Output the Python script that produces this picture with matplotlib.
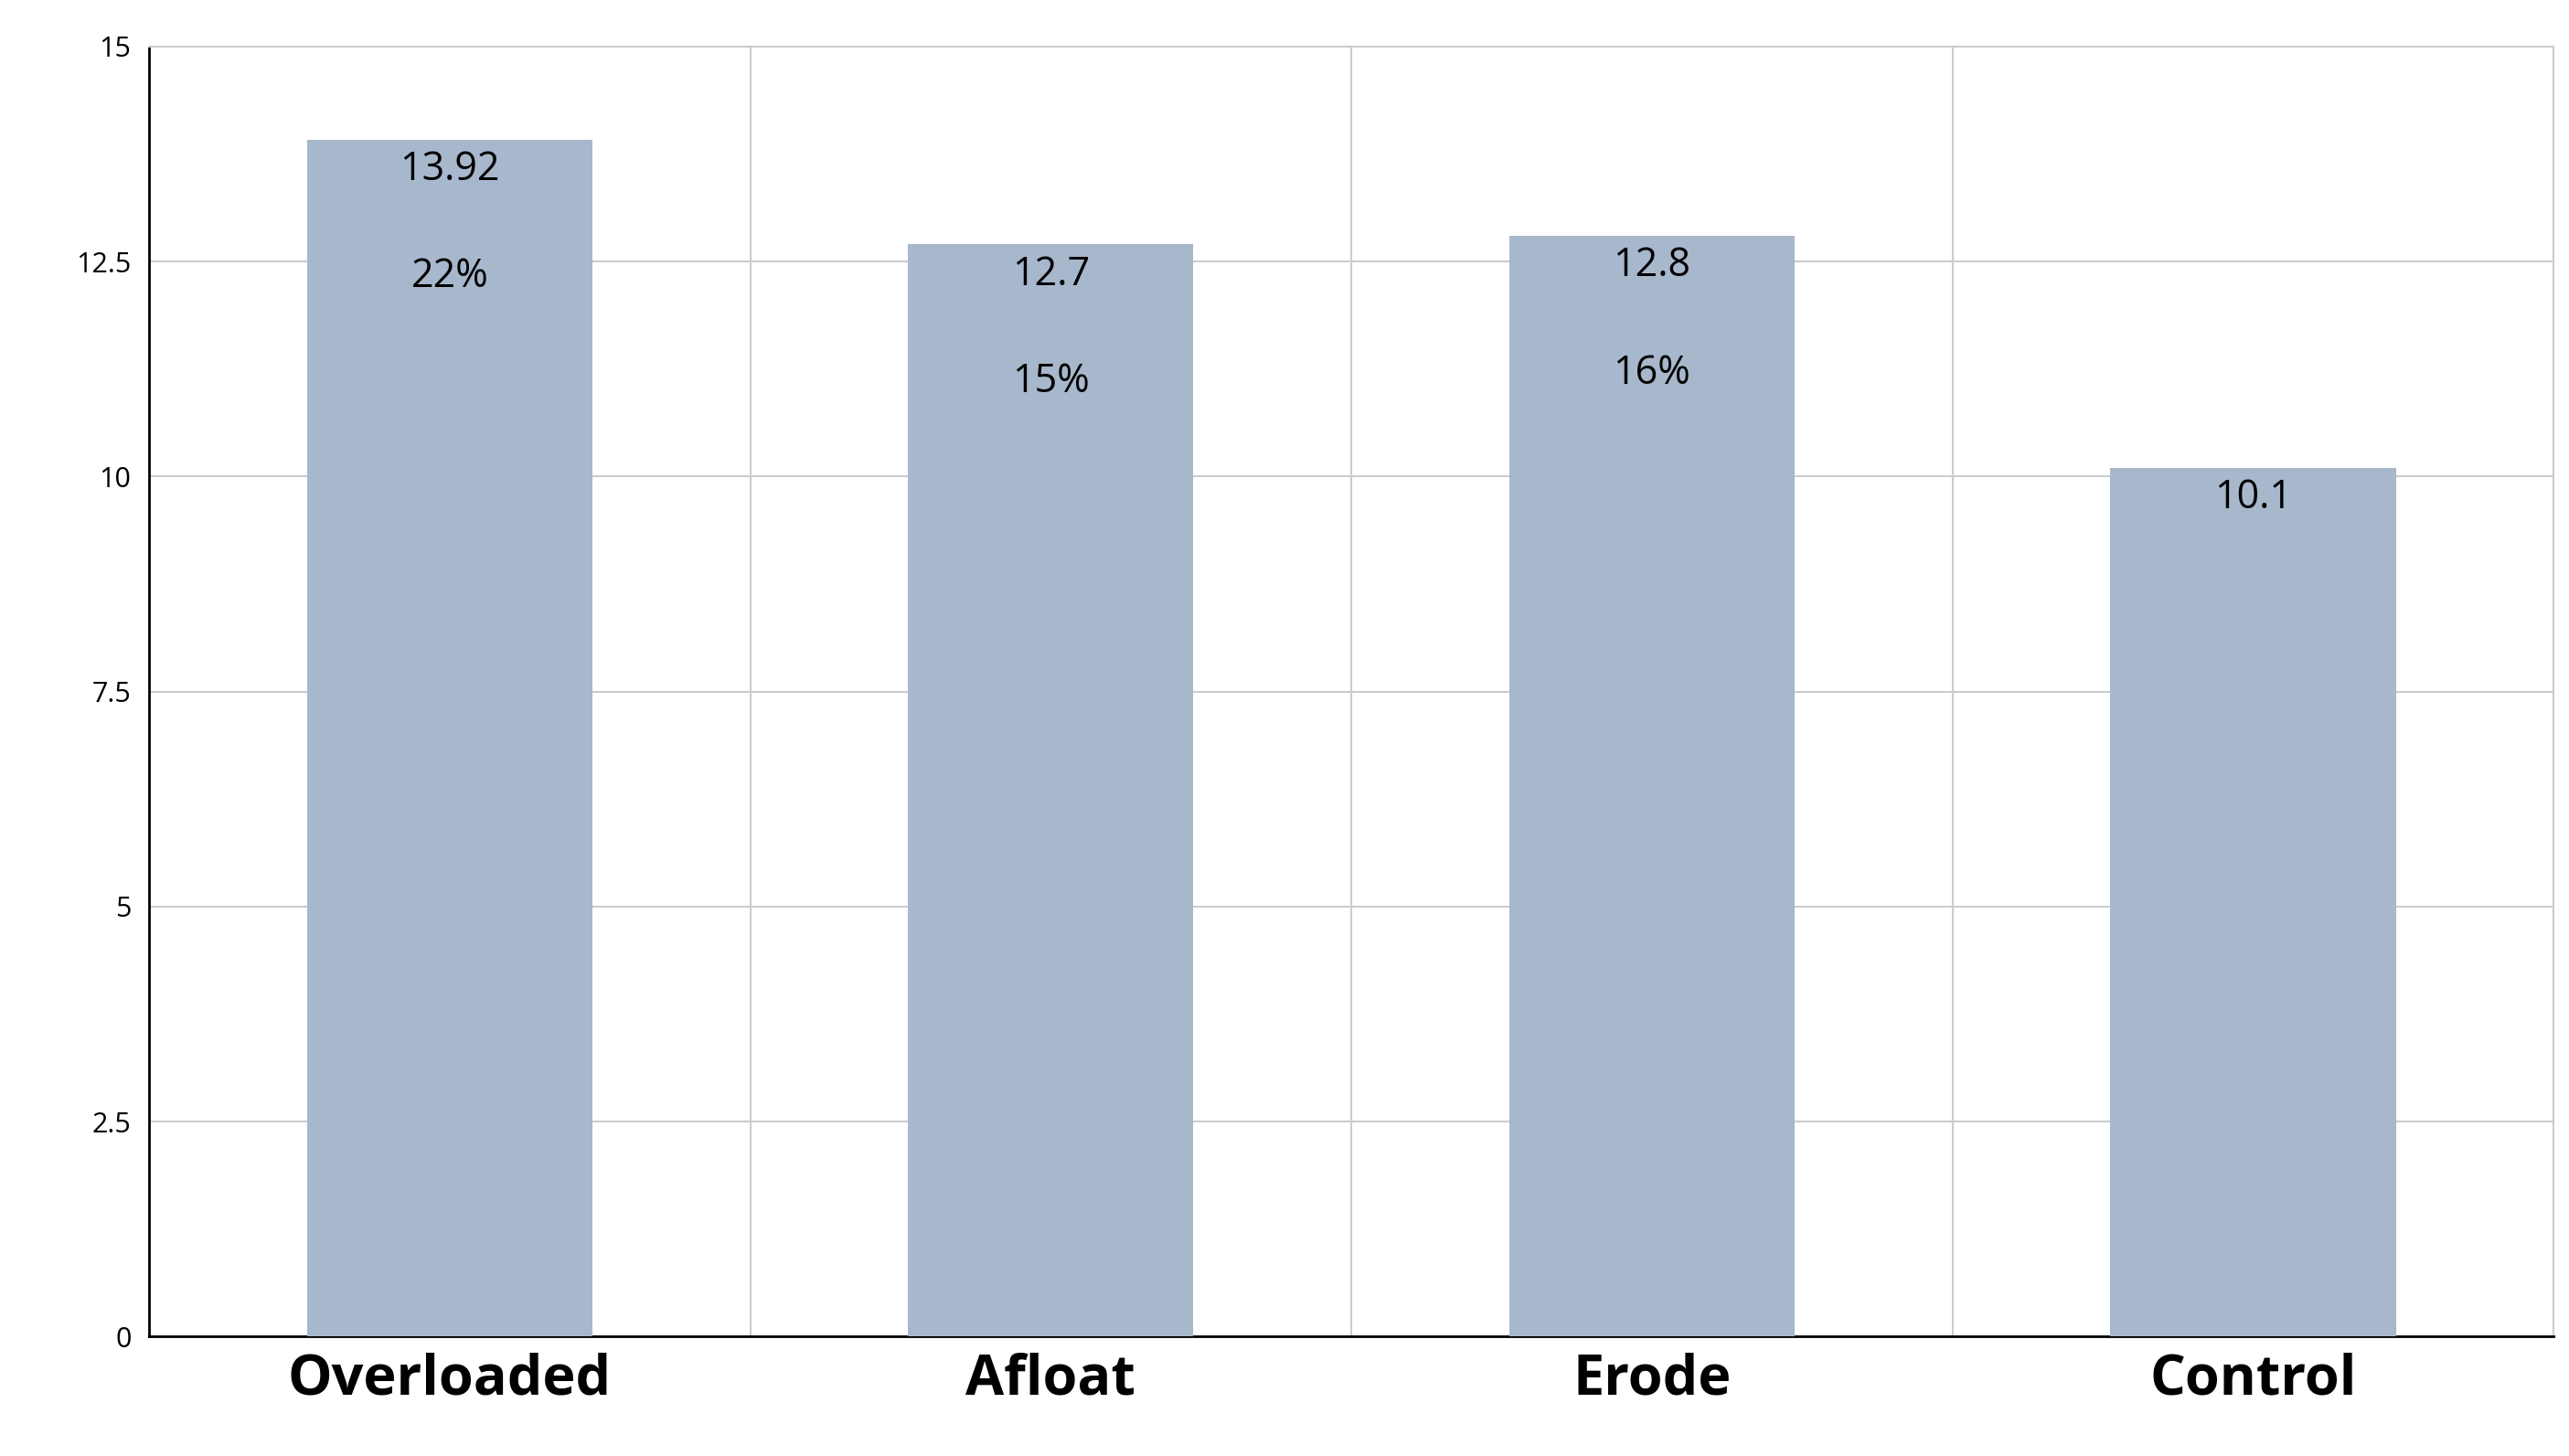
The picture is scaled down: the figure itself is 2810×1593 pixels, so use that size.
import matplotlib.pyplot as plt
import numpy as np

# Data
groups = ["Overloaded", "Afloat", "Erode", "Control"]
values = [13.92, 12.7, 12.8, 10.1]
percents = ["22%", "15%", "16%", ""]
value_labels = ["13.92", "12.7", "12.8", "10.1"]

plt.rcParams['font.family'] = ['Open Sans', 'DejaVu Sans']

fig = plt.figure(figsize=(28.1, 15.93), dpi=100)
ax = fig.add_axes([0.058, 0.082, 0.936, 0.886])

x = np.arange(len(groups))
ax.bar(x, values, width=0.475, color="#a7b7cc", zorder=3)

for i in range(len(groups)):
    ax.text(x[i], values[i] - 0.35, value_labels[i], ha="center", va="center",
            fontsize=31, zorder=4)
    if percents[i]:
        ax.text(x[i], values[i] - 1.6, percents[i], ha="center", va="center",
                fontsize=31, zorder=4)

ax.set_xlim(-0.5, len(groups) - 0.5)
ax.set_ylim(0, 15)
ax.set_yticks([0, 2.5, 5, 7.5, 10, 12.5, 15])
ax.set_yticklabels(["0", "2.5", "5", "7.5", "10", "12.5", "15"], fontsize=22)
ax.set_xticks(x)
ax.set_xticklabels(groups, fontsize=44, fontweight="bold")
ax.set_xticks(x[:-1] + 0.5, minor=True)

ax.grid(axis="y", color="#cccccc", linewidth=1.5, zorder=0)
ax.grid(axis="x", which="minor", color="#cccccc", linewidth=1.5, zorder=0)
ax.tick_params(axis="both", which="both", length=0)
ax.tick_params(axis="x", pad=12)
ax.tick_params(axis="y", pad=14)

for side in ["top", "right"]:
    ax.spines[side].set_color("#cccccc")
    ax.spines[side].set_linewidth(1.5)
ax.spines["left"].set_linewidth(2)
ax.spines["bottom"].set_linewidth(2)

fig.savefig("out.png", facecolor="white")
